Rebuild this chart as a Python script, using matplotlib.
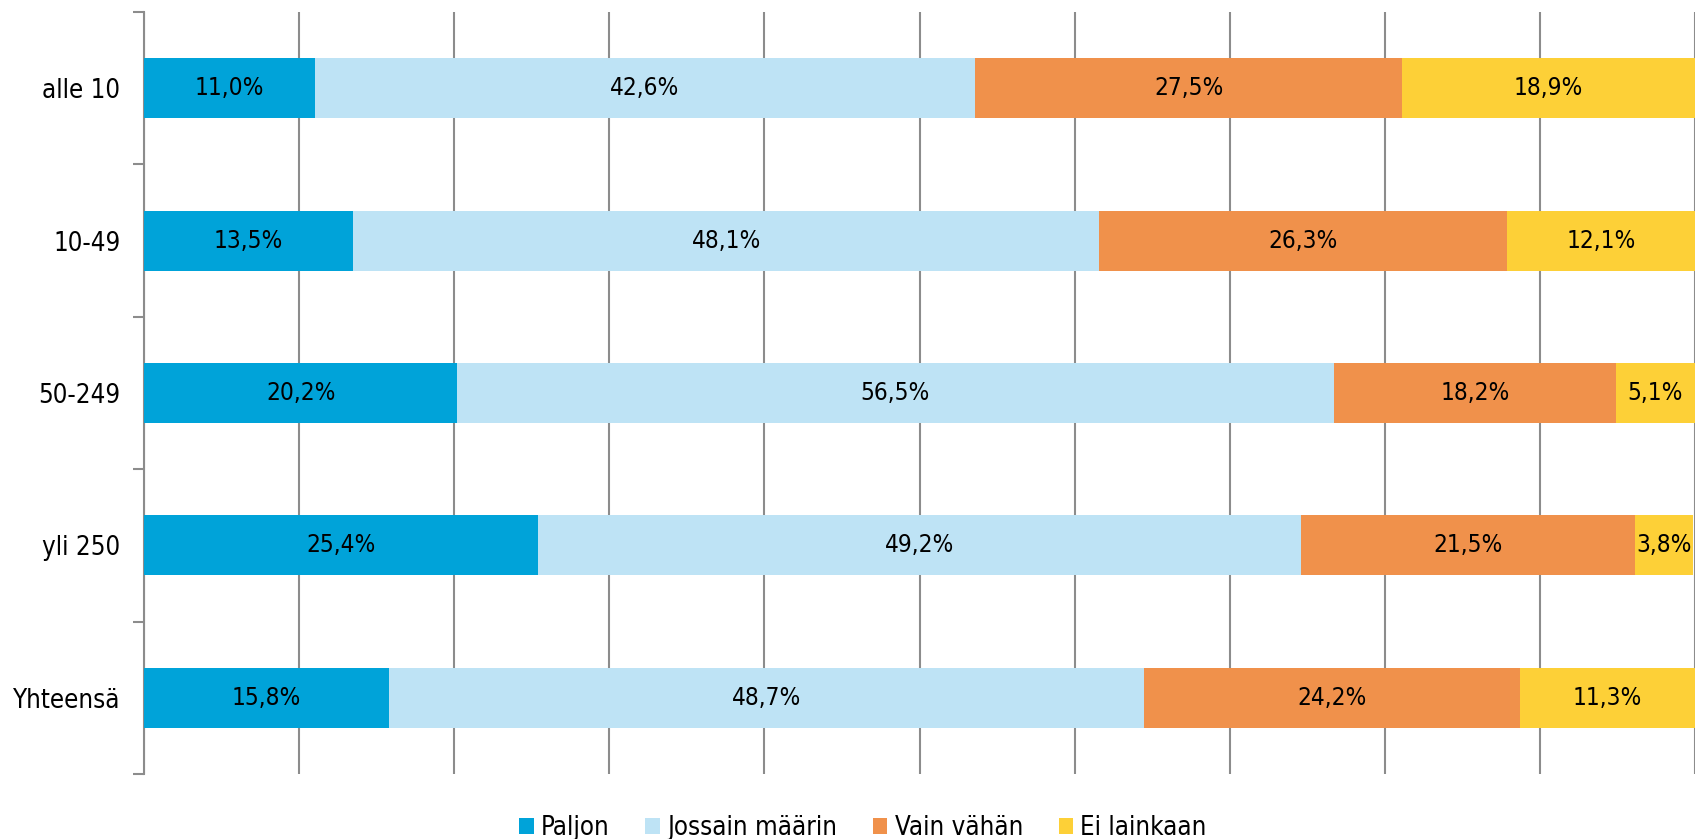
import matplotlib
matplotlib.use("Agg")
import matplotlib.pyplot as plt
from matplotlib.patches import Patch

categories = ["alle 10", "10-49", "50-249", "yli 250", "Yhteensä"]
series_names = ["Paljon", "Jossain määrin", "Vain vähän", "Ei lainkaan"]
paljon = [11.0, 13.5, 20.2, 25.4, 15.8]
jossain = [42.6, 48.1, 56.5, 49.2, 48.7]
vain = [27.5, 26.3, 18.2, 21.5, 24.2]
ei = [18.9, 12.1, 5.1, 3.8, 11.3]
colors = ["#00A3D9", "#BEE3F5", "#F0914B", "#FDD037"]

plt.rcParams["font.family"] = ["DejaVu Sans"]
font = dict(fontstretch="condensed")

fig = plt.figure(figsize=(16.96, 8.39), dpi=100)
ax = fig.add_axes([144 / 1696, 1 - 774 / 839, 1551 / 1696, (774 - 12) / 839])

ypos = list(range(len(categories)))
left = [0.0] * len(categories)
for name, vals, col in zip(series_names, [paljon, jossain, vain, ei], colors):
    ax.barh(ypos, vals, left=left, height=0.395, color=col, label=name, zorder=3)
    for y, v, l in zip(ypos, vals, left):
        ax.text(l + v / 2, y, f"{v:.1f}%".replace(".", ","), ha="center", va="center",
                fontsize=17.5, color="black", zorder=4, **font)
    left = [a + b for a, b in zip(left, vals)]

ax.set_xlim(0, 100)
ax.set_ylim(len(categories) - 0.5, -0.5)
ax.set_xticks(range(0, 101, 10))
ax.xaxis.grid(True, color="#8C8C8C", linewidth=1.5, zorder=0)
ax.tick_params(axis="x", length=0, labelbottom=False)
ax.set_yticks(ypos)
ax.set_yticklabels(categories, fontsize=18.5, **font)
ax.set_yticks([i - 0.5 for i in range(len(categories) + 1)], minor=True)
ax.tick_params(axis="y", which="major", length=0, pad=17)
ax.tick_params(axis="y", which="minor", length=8, width=1.5, color="#8C8C8C")
for s in ["top", "right", "bottom"]:
    ax.spines[s].set_visible(False)
ax.spines["left"].set_color("#8C8C8C")
ax.spines["left"].set_linewidth(1.5)

handles = [Patch(facecolor=c, label=n) for n, c in zip(series_names, colors)]
fig.legend(handles=handles, loc="center", bbox_to_anchor=(863 / 1696, 1 - 828 / 839),
           ncol=4, frameon=False, handlelength=0.56, handleheight=0.56,
           handletextpad=0.28, columnspacing=1.4,
           prop=dict(size=18.5, stretch="condensed"))

fig.savefig("out.png", dpi=100)
